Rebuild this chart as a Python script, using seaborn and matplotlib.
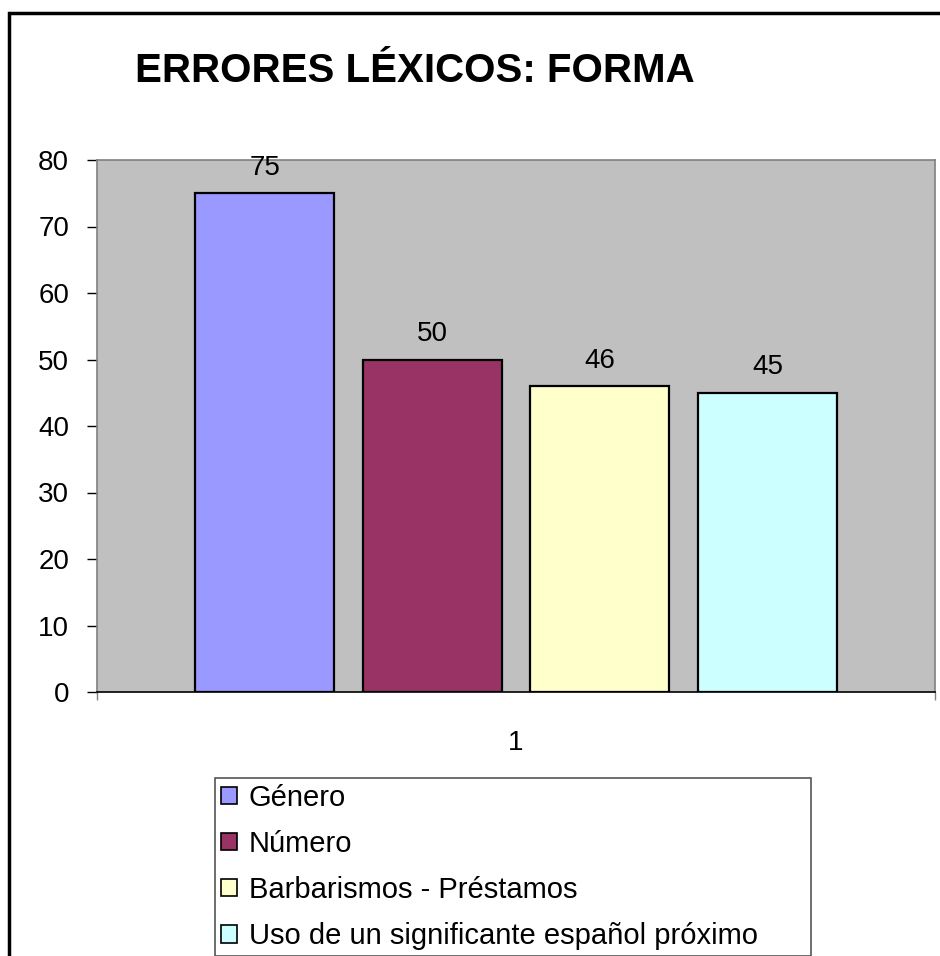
import matplotlib
matplotlib.use("Agg")
import matplotlib.pyplot as plt
from matplotlib.patches import Rectangle
import pandas as pd
import seaborn as sns

# Chart data
categories = ["Género", "Número", "Barbarismos - Préstamos", "Uso de un significante español próximo"]
values = [75, 50, 46, 45]
group_label = ["1", "1", "1", "1"]
bar_colors = ["#9999FF", "#993366", "#FFFFCC", "#CCFFFF"]
y_ticks = [0, 10, 20, 30, 40, 50, 60, 70, 80]

df = pd.DataFrame({"grupo": group_label, "tipo": categories, "valor": values})

sns.set_theme(style="white")
plt.rcParams["font.family"] = ["Liberation Sans", "DejaVu Sans"]
plt.rcParams["text.color"] = "black"
plt.rcParams["xtick.color"] = "black"
plt.rcParams["ytick.color"] = "black"

fig = plt.figure(figsize=(9.4, 9.56), dpi=100)
ax = fig.add_axes([97 / 940, 1 - 692 / 956, (935 - 97) / 940, (692 - 160) / 956])

sns.barplot(data=df, x="grupo", y="valor", hue="tipo", palette=bar_colors,
            width=0.8, gap=0.17, edgecolor="black", linewidth=1.6,
            saturation=1, ax=ax)

ax.set_facecolor("#C0C0C0")
ax.set_ylim(0, 80)
ax.set_xlim(-0.5, 0.5)
ax.set_yticks(y_ticks)
ax.set_xlabel("")
ax.set_ylabel("")

for c in ax.containers:
    ax.bar_label(c, padding=9, fontsize=20, color="black")

ax.tick_params(axis="y", labelsize=20, length=7, width=1, color="black",
               direction="out", left=True, pad=13)
ax.tick_params(axis="x", labelsize=20, length=0, pad=27)
ax.set_xticks([-0.5, 0.5], minor=True)
ax.tick_params(axis="x", which="minor", length=6, width=1, color="#808080",
               direction="out", bottom=True)

for side in ["left", "top", "right"]:
    ax.spines[side].set_color("#808080")
    ax.spines[side].set_linewidth(1.2)
ax.spines["bottom"].set_color("black")
ax.spines["bottom"].set_linewidth(1.2)

# Legend below the plot
leg_x0, leg_x1, leg_top = 215 / 940, 811 / 940, 1 - 778 / 956
leg = ax.legend(loc="upper left", bbox_to_anchor=(leg_x0, leg_top - 0.2, leg_x1 - leg_x0, 0.2),
                bbox_transform=fig.transFigure, mode="expand", fontsize=21,
                frameon=True, fancybox=False, edgecolor="#555555", framealpha=1,
                handlelength=0.55, handleheight=0.55, handletextpad=0.4,
                labelspacing=0.62, borderpad=0.2, borderaxespad=0)
leg.get_frame().set_linewidth(1.2)
for h in leg.legend_handles:
    h.set_edgecolor("black")
    h.set_linewidth(1.2)

fig.text(135 / 940, 1 - 82 / 956, "ERRORES LÉXICOS: FORMA", fontsize=29,
         fontweight="bold", ha="left", va="baseline", color="black")

# Outer chart border
fig.patches.append(Rectangle((9 / 940, -0.05), 1.1, 1 - 13 / 956 + 0.05,
                             transform=fig.transFigure, fill=False,
                             edgecolor="black", linewidth=2.5))

fig.savefig("out.png", dpi=100, facecolor="white")
